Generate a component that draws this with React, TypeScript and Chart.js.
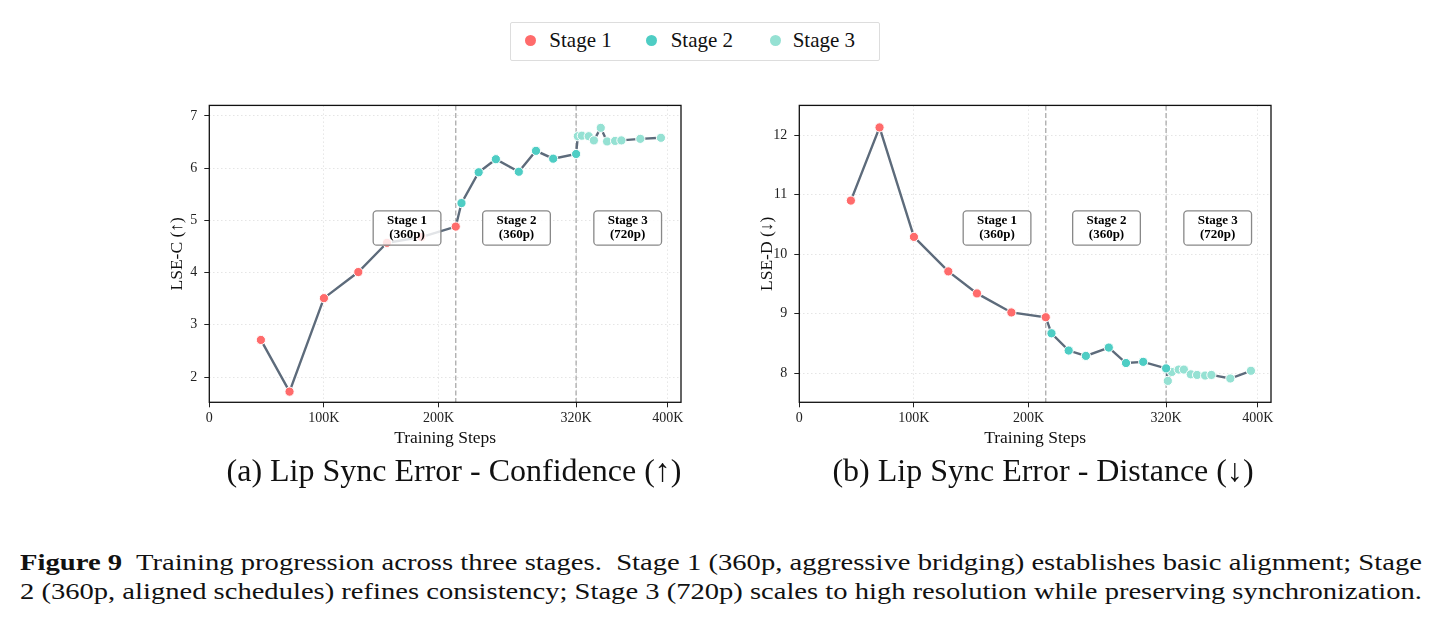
import React, { useEffect, useLayoutEffect, useRef } from 'react';
import { Chart, registerables } from 'chart.js';
Chart.register(...registerables);

// ---------------- data ----------------
const stage1Steps = [45000, 70000, 100000, 130000, 155000, 185000, 215000];
const stage2Steps = [220000, 235000, 250000, 270000, 285000, 300000, 320000];
const stage3Steps = [321500, 325000, 331000, 335500, 341500, 347000, 354000, 359500, 376000, 394000];

const lseC1 = [2.71, 1.72, 3.51, 4.01, 4.57, 4.68, 4.88];
const lseC2 = [5.33, 5.92, 6.17, 5.93, 6.33, 6.18, 6.27];
const lseC3 = [6.61, 6.62, 6.61, 6.53, 6.77, 6.51, 6.52, 6.53, 6.56, 6.58];

const lseD1 = [10.9, 12.13, 10.29, 9.71, 9.34, 9.02, 8.94];
const lseD2 = [8.67, 8.38, 8.29, 8.43, 8.17, 8.19, 8.08];
const lseD3 = [7.87, 8.02, 8.06, 8.06, 7.98, 7.97, 7.96, 7.97, 7.91, 8.04];

const xTickValues = [0, 100000, 200000, 320000, 400000];
const lseCTicks = [2, 3, 4, 5, 6, 7];
const lseDTicks = [8, 9, 10, 11, 12];
const stageBoundaries = [215000, 320000];
const stageBoxLines = [
  ['Stage 1', '(360p)'],
  ['Stage 2', '(360p)'],
  ['Stage 3', '(720p)'],
];
const stageBoxSteps = [172500, 268000, 365000];
const legendLabels = ['Stage 1', 'Stage 2', 'Stage 3'];

// ---------------- styles ----------------
const SERIF = "'Liberation Serif', 'Times New Roman', serif";
const STAGE_COLORS = ['#FF6B6B', '#4ECDC4', '#95E1D3'];
const LINE_COLOR = '#5d6b7b';
const GRID_COLOR = 'rgba(0,0,0,0.13)';

const fmtStep = (v: number) => (v === 0 ? '0' : `${Math.round(v / 1000)}K`);
const pts = (xs: number[], ys: number[]) => xs.map((x, i) => ({ x, y: ys[i] }));

type PanelProps = {
  left: number;
  top: number;
  ys: number[][];
  yTicks: number[];
  yMin: number;
  yMax: number;
  yTitle: string;
};

function Panel({ left, top, ys, yTicks, yMin, yMax, yTitle }: PanelProps) {
  const ref = useRef<HTMLCanvasElement | null>(null);
  useEffect(() => {
    if (!ref.current) return;
    const steps = [stage1Steps, stage2Steps, stage3Steps];
    const all = [
      ...pts(stage1Steps, ys[0]),
      ...pts(stage2Steps, ys[1]),
      ...pts(stage3Steps, ys[2]),
    ];

    const framePlugin = {
      id: 'frame',
      afterDraw(chart: any) {
        const { ctx, chartArea } = chart;
        const { left: l, top: t, right: r, bottom: b } = chartArea;
        ctx.save();
        ctx.strokeStyle = '#111';
        ctx.lineWidth = 1.3;
        ctx.setLineDash([]);
        ctx.strokeRect(l, t, r - l, b - t);
        ctx.restore();
      },
    };
    const boundaryPlugin = {
      id: 'boundaries',
      beforeDatasetsDraw(chart: any) {
        const { ctx, chartArea, scales } = chart;
        ctx.save();
        ctx.strokeStyle = '#aaaaaa';
        ctx.lineWidth = 1.3;
        ctx.setLineDash([5, 2.5]);
        stageBoundaries.forEach((b) => {
          const x = scales.x.getPixelForValue(b);
          ctx.beginPath();
          ctx.moveTo(x, chartArea.top);
          ctx.lineTo(x, chartArea.bottom);
          ctx.stroke();
        });
        ctx.restore();
      },
    };
    const boxPlugin = {
      id: 'stageBoxes',
      afterDatasetsDraw(chart: any) {
        const { ctx, chartArea, scales } = chart;
        const cy = chartArea.top + 0.413 * (chartArea.bottom - chartArea.top);
        const w = 67.7;
        const h = 34.3;
        ctx.save();
        stageBoxSteps.forEach((s, i) => {
          const cx = scales.x.getPixelForValue(s);
          ctx.beginPath();
          (ctx as any).roundRect(cx - w / 2, cy - h / 2, w, h, 3.5);
          ctx.fillStyle = 'rgba(255,255,255,0.82)';
          ctx.fill();
          ctx.strokeStyle = '#888888';
          ctx.lineWidth = 1.3;
          ctx.setLineDash([]);
          ctx.stroke();
          ctx.fillStyle = '#000';
          ctx.font = `bold 13px ${SERIF}`;
          ctx.textAlign = 'center';
          ctx.textBaseline = 'middle';
          ctx.fillText(stageBoxLines[i][0], cx, cy - 7.5);
          ctx.fillText(stageBoxLines[i][1], cx, cy + 6.5);
        });
        ctx.restore();
      },
    };

    const gridCfg = {
      color: GRID_COLOR,
      lineWidth: 0.8,
      tickColor: '#222',
      tickLength: 5,
      tickWidth: 1,
      tickBorderDash: [],
    };

    const chart = new Chart(ref.current, {
      type: 'scatter',
      data: {
        datasets: [
          {
            label: 'trend',
            data: all,
            showLine: true,
            borderColor: LINE_COLOR,
            borderWidth: 2.4,
            pointRadius: 0,
            order: 2,
          } as any,
          ...steps.map((st, i) => ({
            label: legendLabels[i],
            data: pts(st, ys[i]),
            backgroundColor: STAGE_COLORS[i],
            borderColor: '#ffffff',
            borderWidth: 1,
            pointRadius: 4.6,
            order: 1,
          })),
        ],
      },
      options: {
        animation: false,
        responsive: false,
        devicePixelRatio: 1,
        layout: { padding: { top: 11.7, right: 14, left: 0, bottom: 0 } },
        plugins: { legend: { display: false }, tooltip: { enabled: false } },
        scales: {
          x: {
            type: 'linear',
            min: 0,
            max: 411500,
            afterBuildTicks: (s: any) => {
              s.ticks = xTickValues.map((v) => ({ value: v }));
            },
            afterFit: (s: any) => {
              s.height = 57.7;
            },
            grid: gridCfg,
            border: { display: false, dash: [1.5, 2.5] },
            ticks: {
              font: { family: SERIF, size: 14 },
              color: '#222',
              padding: 3,
              maxRotation: 0,
              autoSkip: false,
              callback: (v: any) => fmtStep(Number(v)),
            },
            title: {
              display: true,
              text: 'Training Steps',
              font: { family: SERIF, size: 17.5 },
              color: '#111',
              padding: { top: 0, bottom: 11.5 },
            },
          },
          y: {
            type: 'linear',
            min: yMin,
            max: yMax,
            afterBuildTicks: (s: any) => {
              s.ticks = yTicks.map((v) => ({ value: v }));
            },
            afterFit: (s: any) => {
              s.width = 59.3;
            },
            grid: gridCfg,
            border: { display: false, dash: [1.5, 2.5] },
            ticks: {
              font: { family: SERIF, size: 14 },
              color: '#222',
              padding: 7,
              autoSkip: false,
              callback: (v: any) => String(v),
            },
            title: {
              display: true,
              text: yTitle,
              font: { family: SERIF, size: 17.5 },
              color: '#111',
              padding: { top: 16.5, bottom: 0 },
            },
          },
        },
      } as any,
      plugins: [boundaryPlugin, boxPlugin, framePlugin],
    });
    return () => chart.destroy();
  }, []);
  return (
    <canvas
      ref={ref}
      width={545}
      height={370}
      style={{ position: 'absolute', left, top, width: 545, height: 370, display: 'block' }}
    />
  );
}

function FitLine({ width, children }: { width: number; children: React.ReactNode }) {
  const ref = useRef<HTMLSpanElement | null>(null);
  useLayoutEffect(() => {
    const el = ref.current;
    if (!el) return;
    el.style.transform = 'none';
    const w = el.getBoundingClientRect().width;
    if (w > 0) el.style.transform = `scaleX(${width / w})`;
  }, []);
  return (
    <div style={{ height: 29, whiteSpace: 'nowrap' }}>
      <span
        ref={ref}
        style={{ display: 'inline-block', whiteSpace: 'pre', transformOrigin: '0 50%' }}
      >
        {children}
      </span>
    </div>
  );
}

export default function App() {
  const legendDotX = [530, 651.7, 775];
  const legendTextX = [549.3, 670.7, 792.7];
  return (
    <div
      style={{
        position: 'absolute',
        left: 0,
        top: 0,
        width: 1442,
        height: 623,
        background: '#fff',
        fontFamily: SERIF,
        overflow: 'hidden',
      }}
    >
      {/* legend */}
      <div
        style={{
          position: 'absolute',
          left: 510,
          top: 22,
          width: 368,
          height: 37,
          border: '1px solid #dddddd',
          borderRadius: 2,
          background: 'rgba(255,255,255,0.9)',
        }}
      />
      {legendLabels.map((lab, i) => (
        <React.Fragment key={lab}>
          <div
            style={{
              position: 'absolute',
              left: legendDotX[i] - 5.5,
              top: 40 - 5.5,
              width: 11,
              height: 11,
              borderRadius: '50%',
              background: STAGE_COLORS[i],
            }}
          />
          <div
            style={{
              position: 'absolute',
              left: legendTextX[i],
              top: 40 - 12,
              height: 24,
              lineHeight: '24px',
              fontSize: 21,
              color: '#111',
              whiteSpace: 'nowrap',
            }}
          >
            {lab}
          </div>
        </React.Fragment>
      ))}

      <Panel left={150} top={90} ys={[lseC1, lseC2, lseC3]} yTicks={lseCTicks} yMin={1.516} yMax={7.2} yTitle="LSE-C (↑)" />
      <Panel left={740} top={90} ys={[lseD1, lseD2, lseD3]} yTicks={lseDTicks} yMin={7.51} yMax={12.5} yTitle="LSE-D (↓)" />

      {/* subtitles */}
      <div style={{ position: 'absolute', left: 454, top: 453, transform: 'translateX(-50%)', fontSize: 32, lineHeight: '34px', whiteSpace: 'nowrap', color: '#111' }}>
        (a) Lip Sync Error - Confidence (↑)
      </div>
      <div style={{ position: 'absolute', left: 1043, top: 453, transform: 'translateX(-50%)', fontSize: 32, lineHeight: '34px', whiteSpace: 'nowrap', color: '#111' }}>
        (b) Lip Sync Error - Distance (↓)
      </div>

      {/* caption */}
      <div style={{ position: 'absolute', left: 20, top: 548, width: 1402, fontSize: 23, lineHeight: '29px', color: '#111' }}>
        <FitLine width={1402}>
          <b>Figure 9</b>
          {'  Training progression across three stages.  Stage 1 (360p, aggressive bridging) establishes basic alignment; Stage'}
        </FitLine>
        <FitLine width={1402}>
          {'2 (360p, aligned schedules) refines consistency; Stage 3 (720p) scales to high resolution while preserving synchronization.'}
        </FitLine>
      </div>
    </div>
  );
}
